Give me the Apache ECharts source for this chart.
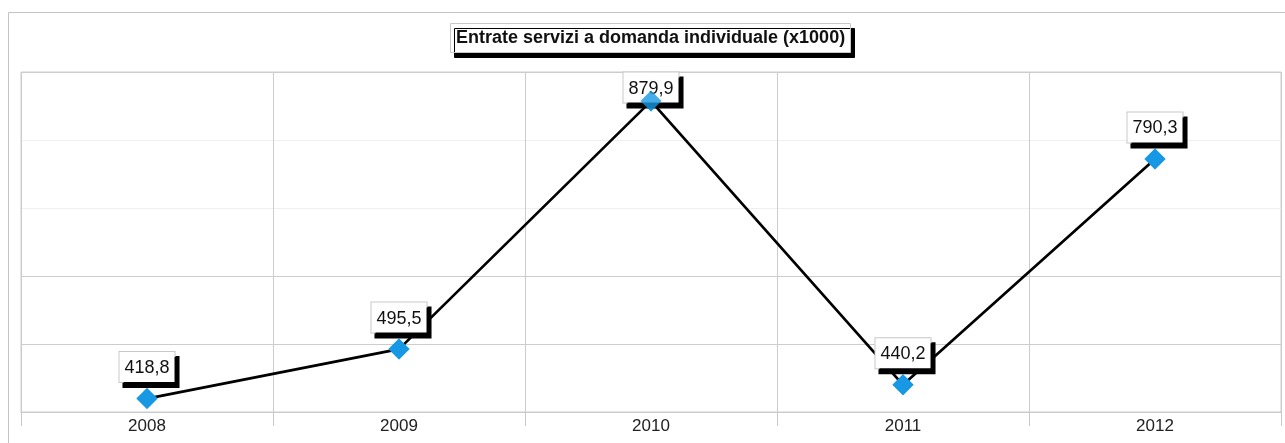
<!DOCTYPE html>
<html>
<head>
<meta charset="utf-8">
<script src="https://cdn.jsdelivr.net/npm/echarts@6/dist/echarts.min.js"></script>
<style>
  html, body { margin: 0; padding: 0; background: #ffffff; }
  #chart { width: 1285px; height: 443px; }
</style>
</head>
<body>
<div id="chart"></div>
<script>
// Chart content
const titleText = 'Entrate servizi a domanda individuale (x1000)';
const years = ['2008', '2009', '2010', '2011', '2012'];
const entrate = [418.8, 495.5, 879.9, 440.2, 790.3];

// Value scale of the plot and number of horizontal bands
const valueMin = 398;
const valueMax = 925;
const bandCount = 5;

const fmt = v => v.toFixed(1).replace('.', ',');

const peak = Math.max(...entrate);
const lineData = entrate.map(v => {
  // the top label is pushed down so it stays inside the plot area
  if (v === peak) return { value: v, label: { offset: [0, 18] } };
  return v;
});

const markerColor = '#1798e3';
const chart = echarts.init(document.getElementById('chart'), null, { renderer: 'canvas' });

chart.setOption({
  backgroundColor: '#ffffff',
  animation: false,
  title: {
    text: titleText,
    left: 450,
    top: 23,
    padding: [6, 6, 6, 6],
    backgroundColor: '#ffffff',
    borderColor: '#c8c8c8',
    borderWidth: 1,
    shadowColor: '#000000',
    shadowBlur: 0,
    shadowOffsetX: 4,
    shadowOffsetY: 5,
    textStyle: {
      fontFamily: 'Liberation Sans, Arial, sans-serif',
      fontSize: 18,
      fontWeight: 'bold',
      color: '#111111'
    }
  },
  graphic: [{
    type: 'rect',
    silent: true,
    z: -10,
    shape: { x: 8.5, y: 12.5, width: 1400, height: 600 },
    style: { fill: 'none', stroke: '#c4c4c4', lineWidth: 1 }
  }],
  grid: {
    left: 21, right: 4, top: 72, bottom: 31,
    show: true,
    borderColor: '#cccccc',
    borderWidth: 1,
    backgroundColor: 'transparent'
  },
  xAxis: {
    type: 'category',
    data: years,
    boundaryGap: true,
    axisLine: { show: true, lineStyle: { color: '#cccccc', width: 1 } },
    axisTick: { show: true, length: 14, lineStyle: { color: '#c8c8c8' } },
    splitLine: { show: true, lineStyle: { color: '#cccccc', width: 1 } },
    axisLabel: {
      margin: 6,
      fontFamily: 'Liberation Sans, Arial, sans-serif',
      fontSize: 17,
      color: '#222222'
    }
  },
  yAxis: [{
    type: 'value',
    min: valueMin,
    max: valueMax,
    axisLine: { show: false },
    axisTick: { show: false },
    axisLabel: { show: false },
    splitLine: { show: false }
  }, {
    type: 'value',
    min: 0,
    max: bandCount,
    interval: 1,
    axisLine: { show: false },
    axisTick: { show: false },
    axisLabel: { show: false },
    splitLine: {
      show: true,
      lineStyle: {
        width: 1,
        color: ['#cccccc', '#cccccc', '#cccccc', '#efefef', '#efefef', '#cccccc']
      }
    }
  }],
  series: [{
    // line with value boxes
    type: 'line',
    yAxisIndex: 0,
    data: lineData,
    symbol: 'diamond',
    symbolSize: [21, 21],
    itemStyle: { color: markerColor },
    lineStyle: { color: '#000000', width: 2.7 },
    z: 3,
    label: {
      show: true,
      position: 'top',
      distance: 6,
      formatter: p => fmt(p.value),
      fontFamily: 'Liberation Sans, Arial, sans-serif',
      fontSize: 18,
      color: '#111111',
      backgroundColor: '#ffffff',
      borderColor: '#c8c8c8',
      borderWidth: 1,
      padding: [7, 5, 5, 5],
      shadowColor: '#000000',
      shadowBlur: 0,
      shadowOffsetX: 4,
      shadowOffsetY: 5
    }
  }, {
    // diamond markers kept in front of the value boxes
    type: 'scatter',
    yAxisIndex: 0,
    zlevel: 1,
    data: entrate,
    symbol: 'diamond',
    symbolSize: [21, 21],
    itemStyle: { color: markerColor },
    silent: true
  }]
});
</script>
</body>
</html>
